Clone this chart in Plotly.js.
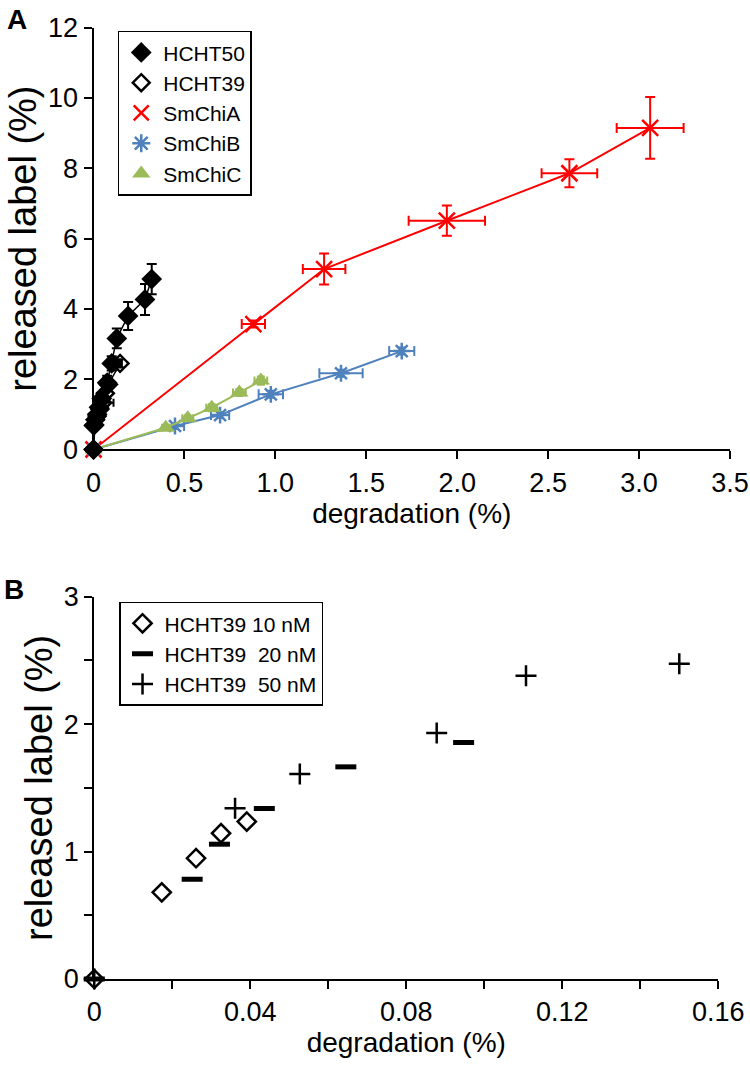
<!DOCTYPE html>
<html>
<head>
<meta charset="utf-8">
<script src="https://cdn.plot.ly/plotly-3.0.1.min.js"></script>
<style>html,body{margin:0;padding:0;background:#fff}#chart{width:750px;height:1071px}</style>
</head>
<body>
<div id="chart"></div>
<script>
// ---------- Panel A data ----------
const hcht50X = [0, 0.005, 0.01, 0.02, 0.03, 0.045, 0.075, 0.10, 0.128, 0.19, 0.283, 0.32];
const hcht50Y = [0, 0.70, 0.85, 1.00, 1.20, 1.45, 1.90, 2.45, 3.16, 3.80, 4.27, 4.85];
const hcht50Ey = [0, 0.10, 0.10, 0.10, 0.15, 0.15, 0.20, 0.20, 0.28, 0.40, 0.44, 0.43];
const hcht50Ex = [0, 0.01, 0.01, 0.01, 0.01, 0.01, 0.01, 0.01, 0.01, 0.02, 0.02, 0.02];

const hcht39X = [0, 0.0, 0.02, 0.035, 0.05, 0.065, 0.082, 0.146];
const hcht39Y = [0, 0.68, 0.95, 1.15, 1.33, 1.60, 1.85, 2.45];
const hcht39Ex = [0, 0.01, 0.01, 0.01, 0.06, 0.01, 0.01, 0.01];
const hcht39Ey = [0, 0.08, 0.08, 0.10, 0.10, 0.10, 0.12, 0.12];

const smChiAX = [0, 0.879, 1.268, 1.943, 2.617, 3.061];
const smChiAY = [0, 3.57, 5.135, 6.51, 7.86, 9.15];
const smChiAEx = [0, 0.064, 0.117, 0.21, 0.153, 0.184];
const smChiAEy = [0, 0.10, 0.44, 0.43, 0.40, 0.88];

const smChiBX = [0, 0.448, 0.696, 0.975, 1.361, 1.695];
const smChiBY = [0, 0.668, 0.98, 1.57, 2.17, 2.80];
const smChiBEx = [0, 0.05, 0.05, 0.067, 0.119, 0.069];
const smChiBEy = [0, 0.08, 0.08, 0.10, 0.10, 0.10];

const smChiCX = [0, 0.397, 0.518, 0.65, 0.802, 0.92];
const smChiCY = [0, 0.62, 0.89, 1.19, 1.62, 1.96];
const smChiCEx = [0, 0.02, 0.03, 0.03, 0.035, 0.035];
const smChiCEy = [0, 0.06, 0.08, 0.10, 0.10, 0.12];

// ---------- Panel B data ----------
const nm10X = [0, 0.0173, 0.0261, 0.0325, 0.0391];
const nm10Y = [0, 0.68, 0.948, 1.144, 1.236];
const nm20X = [0, 0.0251, 0.0321, 0.0436, 0.0645, 0.0947];
const nm20Y = [0, 0.783, 1.058, 1.338, 1.665, 1.856];
const nm50X = [0, 0.0361, 0.0527, 0.0878, 0.1107, 0.1500];
const nm50Y = [0, 1.341, 1.608, 1.93, 2.38, 2.474];

// ---------- Tick labels ----------
const axTickVals = [0, 0.5, 1.0, 1.5, 2.0, 2.5, 3.0, 3.5];
const axTickText = ['0', '0.5', '1.0', '1.5', '2.0', '2.5', '3.0', '3.5'];
const ayTickVals = [0, 2, 4, 6, 8, 10, 12];
const ayTickText = ['0', '2', '4', '6', '8', '10', '12'];
const bxTickVals = [0, 0.02, 0.04, 0.06, 0.08, 0.10, 0.12, 0.14, 0.16];
const bxTickText = ['0', '', '0.04', '', '0.08', '', '0.12', '', '0.16'];
const byTickVals = [0, 0.5, 1, 1.5, 2, 2.5, 3];
const byTickText = ['0', '', '1', '', '2', '', '3'];

const RED = '#FF0000', BLUE = '#4F81BD', GREEN = '#9BBB59', BLACK = '#000000';
const FONT = 'Liberation Sans, Arial, sans-serif';

function eb(arr, color, w) {
  return {type: 'data', array: arr, visible: true, color: color, thickness: 2, width: w};
}

const traces = [
  // Panel A data traces (not in legend)
  {x: smChiAX, y: smChiAY, xaxis: 'x', yaxis: 'y', mode: 'lines+markers', showlegend: false,
   line: {color: RED, width: 2}, marker: {symbol: 'x-thin-open', size: 16, color: RED, line: {color: RED, width: 2.5}},
   error_x: eb(smChiAEx, RED, 5), error_y: eb(smChiAEy, RED, 5), cliponaxis: false},
  {x: smChiBX, y: smChiBY, xaxis: 'x', yaxis: 'y', mode: 'lines+markers', showlegend: false,
   line: {color: BLUE, width: 2}, marker: {symbol: 'asterisk-open', size: 14, color: BLUE, line: {color: BLUE, width: 2.5}},
   error_x: eb(smChiBEx, BLUE, 5), error_y: eb(smChiBEy, BLUE, 4), cliponaxis: false},
  {x: smChiCX, y: smChiCY, xaxis: 'x', yaxis: 'y', mode: 'lines+markers', showlegend: false,
   line: {color: GREEN, width: 2}, marker: {symbol: 'triangle-up', size: 16, color: GREEN},
   error_x: eb(smChiCEx, GREEN, 4), error_y: eb(smChiCEy, GREEN, 4), cliponaxis: false},
  {x: hcht39X, y: hcht39Y, xaxis: 'x', yaxis: 'y', mode: 'lines+markers', showlegend: false,
   line: {color: BLACK, width: 1.5}, marker: {symbol: 'diamond-open', size: 13, color: BLACK, line: {color: BLACK, width: 2.5}},
   error_x: eb(hcht39Ex, BLACK, 4), error_y: eb(hcht39Ey, BLACK, 4), cliponaxis: false},
  {x: hcht50X, y: hcht50Y, xaxis: 'x', yaxis: 'y', mode: 'lines+markers', showlegend: false,
   line: {color: BLACK, width: 1.5}, marker: {symbol: 'diamond', size: 16, color: BLACK},
   error_x: eb(hcht50Ex, BLACK, 4), error_y: eb(hcht50Ey, BLACK, 5), cliponaxis: false},
  // Panel A legend entries
  {x: [null], y: [null], xaxis: 'x', yaxis: 'y', mode: 'markers', name: 'HCHT50', legend: 'legend',
   marker: {symbol: 'diamond', size: 16, color: BLACK}},
  {x: [null], y: [null], xaxis: 'x', yaxis: 'y', mode: 'markers', name: 'HCHT39', legend: 'legend',
   marker: {symbol: 'diamond-open', size: 13, color: BLACK, line: {color: BLACK, width: 2.5}}},
  {x: [null], y: [null], xaxis: 'x', yaxis: 'y', mode: 'markers', name: 'SmChiA', legend: 'legend',
   marker: {symbol: 'x-thin-open', size: 15, color: RED, line: {color: RED, width: 2.5}}},
  {x: [null], y: [null], xaxis: 'x', yaxis: 'y', mode: 'markers', name: 'SmChiB', legend: 'legend',
   marker: {symbol: 'asterisk-open', size: 15, color: BLUE, line: {color: BLUE, width: 2.5}}},
  {x: [null], y: [null], xaxis: 'x', yaxis: 'y', mode: 'markers', name: 'SmChiC', legend: 'legend',
   marker: {symbol: 'triangle-up', size: 18, color: GREEN}},
  // Panel B
  {x: nm10X, y: nm10Y, xaxis: 'x2', yaxis: 'y2', mode: 'markers', name: 'HCHT39 10 nM', legend: 'legend2',
   marker: {symbol: 'diamond-open', size: 14, color: BLACK, line: {color: BLACK, width: 2.5}}, cliponaxis: false},
  {x: nm20X, y: nm20Y, xaxis: 'x2', yaxis: 'y2', mode: 'markers', name: 'HCHT39\u00a0 20 nM', legend: 'legend2',
   marker: {symbol: 'line-ew-open', size: 15, color: BLACK, line: {color: BLACK, width: 5}}, cliponaxis: false},
  {x: nm50X, y: nm50Y, xaxis: 'x2', yaxis: 'y2', mode: 'markers', name: 'HCHT39\u00a0 50 nM', legend: 'legend2',
   marker: {symbol: 'cross-thin-open', size: 15, color: BLACK, line: {color: BLACK, width: 2.5}}, cliponaxis: false}
];

const axisCommon = {
  showgrid: false, zeroline: false, showline: true, linecolor: BLACK, linewidth: 2,
  ticks: 'outside', ticklen: 8, tickwidth: 2, tickcolor: BLACK,
  tickfont: {family: FONT, size: 27, color: BLACK}, automargin: false, fixedrange: true
};

const layout = {
  width: 750, height: 1071,
  margin: {l: 0, r: 0, t: 0, b: 0},
  paper_bgcolor: '#fff', plot_bgcolor: '#fff',
  font: {family: FONT, color: BLACK},
  xaxis: Object.assign({}, axisCommon, {
    domain: [0.1247, 0.9733], range: [0, 3.5], anchor: 'y',
    tickmode: 'array', tickvals: axTickVals, ticktext: axTickText,
    title: {text: 'degradation (%)', font: {family: FONT, size: 28, color: BLACK}, standoff: 6}
  }),
  yaxis: Object.assign({}, axisCommon, {
    domain: [0.5803, 0.9741], range: [0, 12], anchor: 'x',
    tickmode: 'array', tickvals: ayTickVals, ticktext: ayTickText,
    title: {text: 'released label (%)', font: {family: FONT, size: 38, color: BLACK}, standoff: 0}
  }),
  xaxis2: Object.assign({}, axisCommon, {
    domain: [0.1257, 0.9577], range: [0, 0.16], anchor: 'y2',
    tickmode: 'array', tickvals: bxTickVals, ticktext: bxTickText,
    title: {text: 'degradation (%)', font: {family: FONT, size: 28, color: BLACK}, standoff: 6}
  }),
  yaxis2: Object.assign({}, axisCommon, {
    domain: [0.0859, 0.4428], range: [0, 3], anchor: 'x2',
    tickmode: 'array', tickvals: byTickVals, ticktext: byTickText,
    title: {text: 'released label (%)', font: {family: FONT, size: 38, color: BLACK}, standoff: 0}
  }),
  legend: {
    x: 0.157, y: 0.9713, xanchor: 'left', yanchor: 'top', xref: 'paper', yref: 'paper',
    bgcolor: '#fff', bordercolor: BLACK, borderwidth: 1.5,
    font: {family: FONT, size: 21, color: BLACK}, itemwidth: 34, tracegroupgap: 0
  },
  legend2: {
    x: 0.1587, y: 0.4382, xanchor: 'left', yanchor: 'top', xref: 'paper', yref: 'paper',
    bgcolor: '#fff', bordercolor: BLACK, borderwidth: 1.5,
    font: {family: FONT, size: 21, color: BLACK}, itemwidth: 34, tracegroupgap: 0
  },
  annotations: [
    {text: '<b>A</b>', x: 0.0, y: 1.0, xref: 'paper', yref: 'paper', xanchor: 'left', yanchor: 'top',
     xshift: 5, yshift: -2, showarrow: false, font: {family: FONT, size: 28, color: BLACK}},
    {text: '<b>B</b>', x: 0.0, y: 0.4662, xref: 'paper', yref: 'paper', xanchor: 'left', yanchor: 'top',
     xshift: 2, showarrow: false, font: {family: FONT, size: 28, color: BLACK}}
  ],
  showlegend: true
};

Plotly.newPlot('chart', traces, layout, {displayModeBar: false, staticPlot: true});
</script>
</body>
</html>
